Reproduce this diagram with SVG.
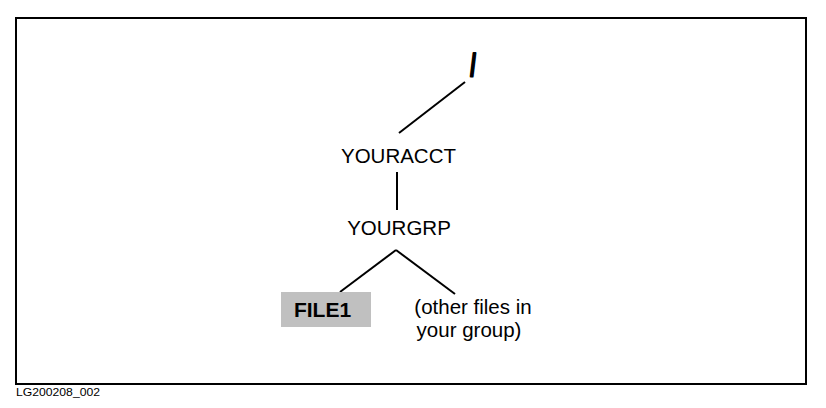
<svg xmlns="http://www.w3.org/2000/svg" width="826" height="408" viewBox="0 0 826 408">
<style>
text{font-family:"Liberation Sans",Arial,Helvetica,sans-serif;fill:#000}
.lbl{font-size:20.5px}
.ln{stroke:#000;stroke-width:2;fill:none}
</style>
<rect x="0" y="0" width="826" height="408" fill="#fff"/>
<rect x="16" y="18" width="790" height="366" fill="none" stroke="#000" stroke-width="2"/>
<g id="connectors">
<line class="ln" x1="465" y1="82" x2="399" y2="133"/>
<line class="ln" x1="397" y1="172" x2="397" y2="210"/>
<line class="ln" x1="340" y1="292" x2="396" y2="250"/>
<line class="ln" x1="396" y1="250" x2="455" y2="294"/>
</g>
<g id="root">
<text x="473" y="76" font-size="31" font-weight="bold" text-anchor="middle" stroke="#000" stroke-width="2.2" stroke-linejoin="round" transform="translate(473 0) scale(0.65 1) translate(-473 0)">/</text>
</g>
<g id="youracct">
<text class="lbl" x="398.5" y="163" text-anchor="middle">YOURACCT</text>
</g>
<g id="yourgrp">
<text class="lbl" x="399" y="235" text-anchor="middle">YOURGRP</text>
</g>
<g id="file1">
<rect x="281" y="292" width="90" height="35" fill="#c0c0c0"/>
<text x="322.5" y="317" font-size="21" font-weight="bold" text-anchor="middle">FILE1</text>
</g>
<g id="others">
<text class="lbl" x="473" y="314" text-anchor="middle">(other files in</text>
<text class="lbl" x="469" y="337" text-anchor="middle">your group)</text>
</g>
<text x="16" y="396" font-size="11.5" textLength="84" lengthAdjust="spacingAndGlyphs">LG200208_002</text>
</svg>
